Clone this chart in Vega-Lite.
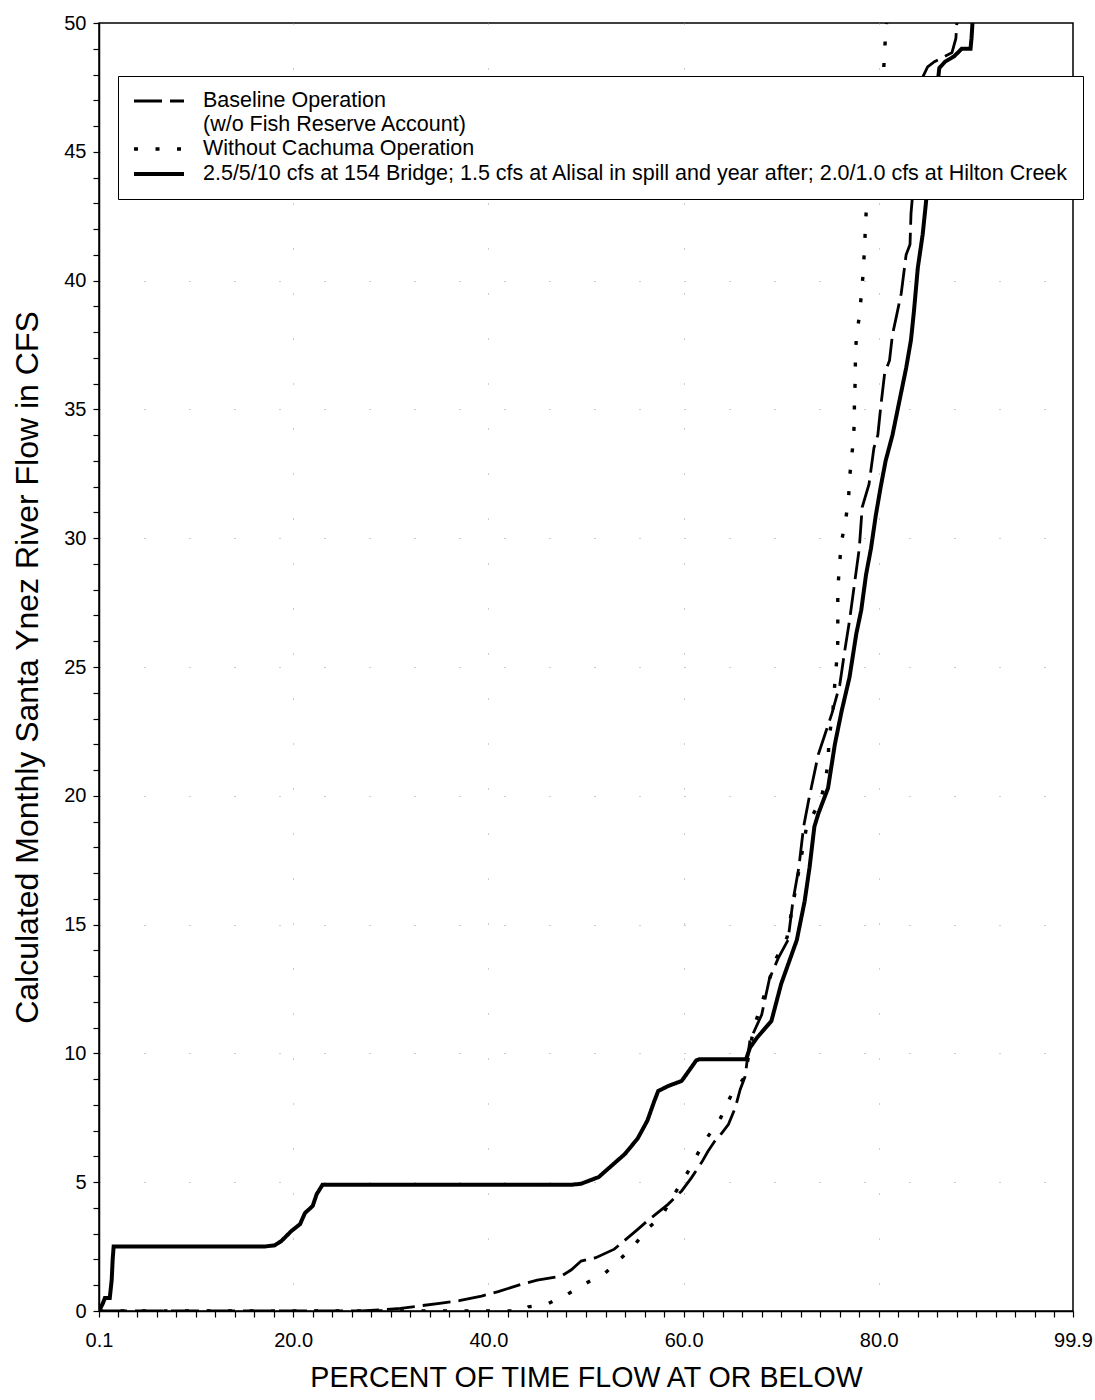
{
  "$schema": "https://vega.github.io/schema/vega-lite/v6.json",
  "width": 974,
  "height": 1288,
  "autosize": {"type": "none"},
  "padding": {"left": 99, "top": 23, "right": 22, "bottom": 89},
  "background": "white",
  "config": {
    "font": "Liberation Sans",
    "view": {"stroke": "black", "strokeWidth": 1.5},
    "axis": {"labelFont": "Liberation Sans", "titleFont": "Liberation Sans", "labelColor": "black", "titleColor": "black", "titleFontWeight": "normal", "domainColor": "black", "domainWidth": 1.5, "tickColor": "black", "tickWidth": 1.2}
  },
  "data": {"values": [
    {"series":"alt","pct":0.1,"cfs":0,"ord":0},
    {"series":"alt","pct":0.5,"cfs":0.3,"ord":1},
    {"series":"alt","pct":0.7,"cfs":0.5,"ord":2},
    {"series":"alt","pct":1.2,"cfs":0.5,"ord":3},
    {"series":"alt","pct":1.4,"cfs":1.2,"ord":4},
    {"series":"alt","pct":1.5,"cfs":2.0,"ord":5},
    {"series":"alt","pct":1.6,"cfs":2.5,"ord":6},
    {"series":"alt","pct":17.0,"cfs":2.5,"ord":7},
    {"series":"alt","pct":18.1,"cfs":2.55,"ord":8},
    {"series":"alt","pct":18.8,"cfs":2.72,"ord":9},
    {"series":"alt","pct":19.8,"cfs":3.1,"ord":10},
    {"series":"alt","pct":20.7,"cfs":3.37,"ord":11},
    {"series":"alt","pct":21.2,"cfs":3.8,"ord":12},
    {"series":"alt","pct":22.0,"cfs":4.08,"ord":13},
    {"series":"alt","pct":22.4,"cfs":4.53,"ord":14},
    {"series":"alt","pct":23.0,"cfs":4.9,"ord":15},
    {"series":"alt","pct":48.5,"cfs":4.9,"ord":16},
    {"series":"alt","pct":49.5,"cfs":4.94,"ord":17},
    {"series":"alt","pct":51.3,"cfs":5.2,"ord":18},
    {"series":"alt","pct":52.2,"cfs":5.5,"ord":19},
    {"series":"alt","pct":54.0,"cfs":6.1,"ord":20},
    {"series":"alt","pct":55.3,"cfs":6.7,"ord":21},
    {"series":"alt","pct":56.3,"cfs":7.4,"ord":22},
    {"series":"alt","pct":57.0,"cfs":8.15,"ord":23},
    {"series":"alt","pct":57.4,"cfs":8.54,"ord":24},
    {"series":"alt","pct":58.4,"cfs":8.73,"ord":25},
    {"series":"alt","pct":59.8,"cfs":8.93,"ord":26},
    {"series":"alt","pct":60.5,"cfs":9.3,"ord":27},
    {"series":"alt","pct":61.3,"cfs":9.73,"ord":28},
    {"series":"alt","pct":61.6,"cfs":9.77,"ord":29},
    {"series":"alt","pct":66.4,"cfs":9.77,"ord":30},
    {"series":"alt","pct":66.8,"cfs":10.22,"ord":31},
    {"series":"alt","pct":67.5,"cfs":10.6,"ord":32},
    {"series":"alt","pct":69.0,"cfs":11.26,"ord":33},
    {"series":"alt","pct":70.0,"cfs":12.7,"ord":34},
    {"series":"alt","pct":71.6,"cfs":14.4,"ord":35},
    {"series":"alt","pct":72.4,"cfs":15.9,"ord":36},
    {"series":"alt","pct":72.9,"cfs":17.2,"ord":37},
    {"series":"alt","pct":73.4,"cfs":18.8,"ord":38},
    {"series":"alt","pct":73.8,"cfs":19.3,"ord":39},
    {"series":"alt","pct":74.8,"cfs":20.3,"ord":40},
    {"series":"alt","pct":75.5,"cfs":22.0,"ord":41},
    {"series":"alt","pct":76.2,"cfs":23.3,"ord":42},
    {"series":"alt","pct":77.0,"cfs":24.6,"ord":43},
    {"series":"alt","pct":77.7,"cfs":26.3,"ord":44},
    {"series":"alt","pct":78.2,"cfs":27.2,"ord":45},
    {"series":"alt","pct":78.7,"cfs":28.6,"ord":46},
    {"series":"alt","pct":79.2,"cfs":29.6,"ord":47},
    {"series":"alt","pct":79.7,"cfs":30.9,"ord":48},
    {"series":"alt","pct":80.2,"cfs":32.0,"ord":49},
    {"series":"alt","pct":80.7,"cfs":33.0,"ord":50},
    {"series":"alt","pct":81.4,"cfs":34.0,"ord":51},
    {"series":"alt","pct":82.1,"cfs":35.3,"ord":52},
    {"series":"alt","pct":82.8,"cfs":36.6,"ord":53},
    {"series":"alt","pct":83.3,"cfs":37.7,"ord":54},
    {"series":"alt","pct":83.6,"cfs":38.8,"ord":55},
    {"series":"alt","pct":84.0,"cfs":40.5,"ord":56},
    {"series":"alt","pct":84.5,"cfs":41.8,"ord":57},
    {"series":"alt","pct":84.8,"cfs":42.9,"ord":58},
    {"series":"alt","pct":86.1,"cfs":47.9,"ord":59},
    {"series":"alt","pct":86.2,"cfs":48.25,"ord":60},
    {"series":"alt","pct":86.8,"cfs":48.5,"ord":61},
    {"series":"alt","pct":87.7,"cfs":48.7,"ord":62},
    {"series":"alt","pct":88.5,"cfs":49.0,"ord":63},
    {"series":"alt","pct":89.4,"cfs":49.0,"ord":64},
    {"series":"alt","pct":89.5,"cfs":49.4,"ord":65},
    {"series":"alt","pct":89.6,"cfs":50,"ord":66},

    {"series":"base","pct":0.1,"cfs":0,"ord":0},
    {"series":"base","pct":27,"cfs":0,"ord":1},
    {"series":"base","pct":29,"cfs":0.05,"ord":2},
    {"series":"base","pct":31,"cfs":0.1,"ord":3},
    {"series":"base","pct":33,"cfs":0.2,"ord":4},
    {"series":"base","pct":35,"cfs":0.3,"ord":5},
    {"series":"base","pct":37,"cfs":0.4,"ord":6},
    {"series":"base","pct":39.3,"cfs":0.58,"ord":7},
    {"series":"base","pct":41,"cfs":0.75,"ord":8},
    {"series":"base","pct":43.4,"cfs":1.04,"ord":9},
    {"series":"base","pct":45,"cfs":1.2,"ord":10},
    {"series":"base","pct":47.5,"cfs":1.36,"ord":11},
    {"series":"base","pct":48.5,"cfs":1.6,"ord":12},
    {"series":"base","pct":49.5,"cfs":1.94,"ord":13},
    {"series":"base","pct":51,"cfs":2.07,"ord":14},
    {"series":"base","pct":52.9,"cfs":2.4,"ord":15},
    {"series":"base","pct":54.3,"cfs":2.85,"ord":16},
    {"series":"base","pct":55.3,"cfs":3.17,"ord":17},
    {"series":"base","pct":56.3,"cfs":3.5,"ord":18},
    {"series":"base","pct":58.4,"cfs":4.14,"ord":19},
    {"series":"base","pct":59.8,"cfs":4.66,"ord":20},
    {"series":"base","pct":60.8,"cfs":5.17,"ord":21},
    {"series":"base","pct":61.9,"cfs":5.8,"ord":22},
    {"series":"base","pct":62.5,"cfs":6.2,"ord":23},
    {"series":"base","pct":63.2,"cfs":6.6,"ord":24},
    {"series":"base","pct":63.9,"cfs":6.9,"ord":25},
    {"series":"base","pct":64.6,"cfs":7.25,"ord":26},
    {"series":"base","pct":65.3,"cfs":7.9,"ord":27},
    {"series":"base","pct":65.8,"cfs":8.6,"ord":28},
    {"series":"base","pct":66.3,"cfs":9.1,"ord":29},
    {"series":"base","pct":66.6,"cfs":9.96,"ord":30},
    {"series":"base","pct":66.8,"cfs":10.5,"ord":31},
    {"series":"base","pct":68.0,"cfs":11.5,"ord":32},
    {"series":"base","pct":68.8,"cfs":12.9,"ord":33},
    {"series":"base","pct":69.7,"cfs":13.7,"ord":34},
    {"series":"base","pct":70.7,"cfs":14.4,"ord":35},
    {"series":"base","pct":71.2,"cfs":15.9,"ord":36},
    {"series":"base","pct":71.8,"cfs":17.2,"ord":37},
    {"series":"base","pct":72.3,"cfs":18.8,"ord":38},
    {"series":"base","pct":72.8,"cfs":19.8,"ord":39},
    {"series":"base","pct":73.8,"cfs":21.6,"ord":40},
    {"series":"base","pct":74.5,"cfs":22.4,"ord":41},
    {"series":"base","pct":75.2,"cfs":23.2,"ord":42},
    {"series":"base","pct":76.0,"cfs":24.3,"ord":43},
    {"series":"base","pct":76.5,"cfs":25.6,"ord":44},
    {"series":"base","pct":77.0,"cfs":26.8,"ord":45},
    {"series":"base","pct":77.5,"cfs":28.2,"ord":46},
    {"series":"base","pct":78.0,"cfs":29.6,"ord":47},
    {"series":"base","pct":78.3,"cfs":31.2,"ord":48},
    {"series":"base","pct":79.0,"cfs":32.1,"ord":49},
    {"series":"base","pct":79.5,"cfs":33.5,"ord":50},
    {"series":"base","pct":79.9,"cfs":34.0,"ord":51},
    {"series":"base","pct":80.2,"cfs":35.1,"ord":52},
    {"series":"base","pct":80.6,"cfs":36.4,"ord":53},
    {"series":"base","pct":81.1,"cfs":36.9,"ord":54},
    {"series":"base","pct":81.4,"cfs":37.9,"ord":55},
    {"series":"base","pct":81.8,"cfs":38.6,"ord":56},
    {"series":"base","pct":82.3,"cfs":39.5,"ord":57},
    {"series":"base","pct":82.5,"cfs":40.1,"ord":58},
    {"series":"base","pct":82.8,"cfs":41.0,"ord":59},
    {"series":"base","pct":83.2,"cfs":41.4,"ord":60},
    {"series":"base","pct":83.3,"cfs":42.6,"ord":61},
    {"series":"base","pct":84.5,"cfs":47.9,"ord":62},
    {"series":"base","pct":85.0,"cfs":48.3,"ord":63},
    {"series":"base","pct":85.7,"cfs":48.5,"ord":64},
    {"series":"base","pct":86.5,"cfs":48.65,"ord":65},
    {"series":"base","pct":87.5,"cfs":48.85,"ord":66},
    {"series":"base","pct":87.9,"cfs":49.4,"ord":67},
    {"series":"base","pct":88.0,"cfs":50,"ord":68},

    {"series":"without","pct":0.1,"cfs":0,"ord":0},
    {"series":"without","pct":43.5,"cfs":0,"ord":1},
    {"series":"without","pct":44.1,"cfs":0.16,"ord":2},
    {"series":"without","pct":46.1,"cfs":0.28,"ord":3},
    {"series":"without","pct":48.1,"cfs":0.65,"ord":4},
    {"series":"without","pct":49.9,"cfs":1.06,"ord":5},
    {"series":"without","pct":51.9,"cfs":1.45,"ord":6},
    {"series":"without","pct":53.3,"cfs":1.94,"ord":7},
    {"series":"without","pct":54.9,"cfs":2.52,"ord":8},
    {"series":"without","pct":56.2,"cfs":3.17,"ord":9},
    {"series":"without","pct":57.7,"cfs":3.65,"ord":10},
    {"series":"without","pct":59.0,"cfs":4.5,"ord":11},
    {"series":"without","pct":60.6,"cfs":5.5,"ord":12},
    {"series":"without","pct":62.0,"cfs":6.5,"ord":13},
    {"series":"without","pct":63.8,"cfs":7.5,"ord":14},
    {"series":"without","pct":64.9,"cfs":8.4,"ord":15},
    {"series":"without","pct":66.3,"cfs":9.1,"ord":16},
    {"series":"without","pct":66.7,"cfs":10.0,"ord":17},
    {"series":"without","pct":67.2,"cfs":11.0,"ord":18},
    {"series":"without","pct":68.3,"cfs":12.3,"ord":19},
    {"series":"without","pct":69.5,"cfs":13.7,"ord":20},
    {"series":"without","pct":70.6,"cfs":14.5,"ord":21},
    {"series":"without","pct":71.3,"cfs":16.0,"ord":22},
    {"series":"without","pct":72.0,"cfs":17.5,"ord":23},
    {"series":"without","pct":72.6,"cfs":18.8,"ord":24},
    {"series":"without","pct":74.0,"cfs":19.8,"ord":25},
    {"series":"without","pct":74.5,"cfs":20.5,"ord":26},
    {"series":"without","pct":74.8,"cfs":21.3,"ord":27},
    {"series":"without","pct":74.9,"cfs":22.2,"ord":28},
    {"series":"without","pct":75.3,"cfs":23.3,"ord":29},
    {"series":"without","pct":75.5,"cfs":24.4,"ord":30},
    {"series":"without","pct":75.7,"cfs":25.3,"ord":31},
    {"series":"without","pct":75.8,"cfs":26.0,"ord":32},
    {"series":"without","pct":75.8,"cfs":27.0,"ord":33},
    {"series":"without","pct":75.8,"cfs":28.0,"ord":34},
    {"series":"without","pct":76.0,"cfs":29.1,"ord":35},
    {"series":"without","pct":76.2,"cfs":29.9,"ord":36},
    {"series":"without","pct":76.6,"cfs":30.7,"ord":37},
    {"series":"without","pct":76.9,"cfs":31.5,"ord":38},
    {"series":"without","pct":77.0,"cfs":32.3,"ord":39},
    {"series":"without","pct":77.2,"cfs":33.1,"ord":40},
    {"series":"without","pct":77.4,"cfs":33.8,"ord":41},
    {"series":"without","pct":77.5,"cfs":34.6,"ord":42},
    {"series":"without","pct":77.5,"cfs":35.4,"ord":43},
    {"series":"without","pct":77.6,"cfs":36.2,"ord":44},
    {"series":"without","pct":77.6,"cfs":37.0,"ord":45},
    {"series":"without","pct":77.7,"cfs":37.8,"ord":46},
    {"series":"without","pct":78.0,"cfs":38.6,"ord":47},
    {"series":"without","pct":78.2,"cfs":39.4,"ord":48},
    {"series":"without","pct":78.4,"cfs":40.3,"ord":49},
    {"series":"without","pct":78.5,"cfs":41.0,"ord":50},
    {"series":"without","pct":78.6,"cfs":41.8,"ord":51},
    {"series":"without","pct":78.7,"cfs":42.6,"ord":52},
    {"series":"without","pct":80.5,"cfs":48.2,"ord":53},
    {"series":"without","pct":80.6,"cfs":48.9,"ord":54},
    {"series":"without","pct":80.7,"cfs":49.6,"ord":55},
    {"series":"without","pct":80.8,"cfs":50,"ord":56}
  ]},
  "mark": {"type": "line", "color": "black", "clip": true, "strokeCap": "butt"},
  "encoding": {
    "x": {
      "field": "pct", "type": "quantitative",
      "scale": {"domain": [0.1, 99.9], "nice": false, "zero": false},
      "axis": {
        "title": "PERCENT OF TIME FLOW AT OR BELOW",
        "titleFontSize": 28.6, "titlePadding": 13,
        "values": [0.1,2,4,6,8,10,12,14,16,18,20,22,24,26,28,30,32,34,36,38,40,42,44,46,48,50,52,54,56,58,60,62,64,66,68,70,72,74,76,78,80,82,84,86,88,90,92,94,96,98,99.9],
        "labelExpr": "(datum.value == 0.1 || datum.value == 99.9 || datum.value % 20 == 0) ? format(datum.value, '.1f') : ''",
        "labelFontSize": 20, "labelPadding": 13, "labelOverlap": false, "labelFlush": false,
        "tickSize": 6,
        "grid": true, "gridColor": "#9a9a9a", "gridDash": [1, 44], "gridWidth": 1,
        "gridOpacity": {"condition": {"test": "datum.value % 20 == 0 && datum.value > 1 && datum.value < 99", "value": 1}, "value": 0}
      }
    },
    "y": {
      "field": "cfs", "type": "quantitative",
      "scale": {"domain": [0, 50], "nice": false},
      "axis": {
        "title": "Calculated Monthly Santa Ynez River Flow in CFS",
        "titleFontSize": 32, "titlePadding": 19,
        "values": [0,1,2,3,4,5,6,7,8,9,10,11,12,13,14,15,16,17,18,19,20,21,22,23,24,25,26,27,28,29,30,31,32,33,34,35,36,37,38,39,40,41,42,43,44,45,46,47,48,49,50],
        "labelExpr": "datum.value % 5 == 0 ? datum.label : ''",
        "labelFontSize": 20, "labelPadding": 7, "labelOverlap": false, "labelFlush": false,
        "tickSize": 6,
        "grid": true, "gridColor": "#9a9a9a", "gridDash": [1, 44], "gridWidth": 1,
        "gridOpacity": {"condition": {"test": "datum.value % 5 == 0 && datum.value > 0 && datum.value < 50", "value": 1}, "value": 0}
      }
    },
    "order": {"field": "ord", "type": "quantitative"},
    "strokeDash": {
      "field": "series", "type": "nominal",
      "scale": {"domain": ["base", "without", "alt"], "range": [[28, 8], [4, 17.5], [1, 0]]},
      "legend": {
        "orient": "none", "legendX": 19, "legendY": 53, "title": null,
        "symbolType": "stroke", "symbolSize": 2500, "symbolStrokeWidth": 2.8, "symbolStrokeColor": "black",
        "labelFont": "Liberation Sans", "labelFontSize": 21.5, "labelColor": "black", "labelOffset": 17, "labelLimit": 3000,
        "padding": 14, "rowPadding": 3, "clipHeight": 22,
        "strokeColor": "black", "fillColor": "white",
        "labelExpr": "datum.value == 'base' ? ['Baseline Operation', '(w/o Fish Reserve Account)'] : datum.value == 'without' ? 'Without Cachuma Operation' : '2.5/5/10 cfs at 154 Bridge; 1.5 cfs at Alisal in spill and year after; 2.0/1.0 cfs at Hilton Creek'",
        "encode": {"labels": {"dy": {"condition": {"test": "datum.value == 'base'", "value": 11}, "value": 0}, "lineHeight": {"value": 22}}}
      }
    },
    "strokeWidth": {
      "field": "series", "type": "ordinal",
      "scale": {"domain": ["base", "without", "alt"], "range": [2.8, 4, 2.8]},
      "legend": null
    }
  }
}
